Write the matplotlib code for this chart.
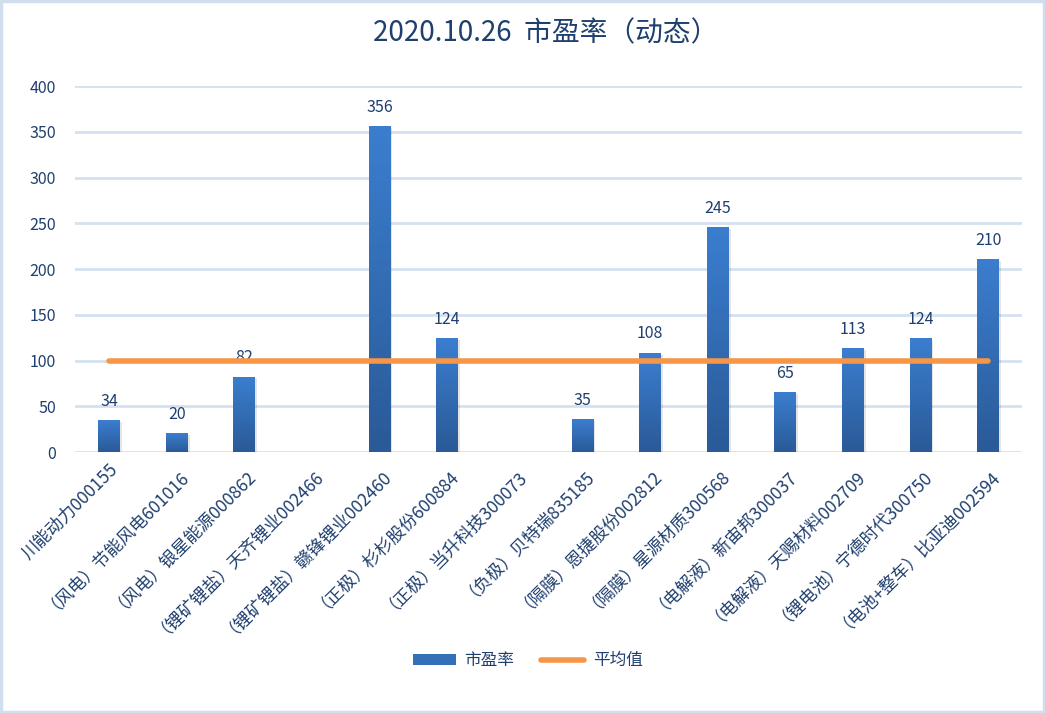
import matplotlib.pyplot as plt
import numpy as np
from matplotlib.lines import Line2D
from matplotlib.patches import Rectangle

plt.rcParams["font.family"] = ["Noto Sans CJK SC", "DejaVu Sans"]

# chart data
companies = [
    "川能动力000155",
    "（风电）节能风电601016",
    "（风电）银星能源000862",
    "（锂矿锂盐）天齐锂业002466",
    "（锂矿锂盐）赣锋锂业002460",
    "（正极）杉杉股份600884",
    "（正极）当升科技300073",
    "（负极）贝特瑞835185",
    "（隔膜）恩捷股份002812",
    "（隔膜）星源材质300568",
    "（电解液）新宙邦300037",
    "（电解液）天赐材料002709",
    "（锂电池）宁德时代300750",
    "（电池+整车）比亚迪002594",
]
pe_values = [34, 20, 82, np.nan, 356, 124, np.nan, 35, 108, 245, 65, 113, 124, 210]
average_pe = [100] * len(companies)
y_ticks = [0, 50, 100, 150, 200, 250, 300, 350, 400]

text_color = "#1F3F6E"
grid_color = "#D5E1F2"
bar_top = np.array([0x3B, 0x7E, 0xCF]) / 255
bar_bottom = np.array([0x2A, 0x5A, 0x97]) / 255
line_color = "#F79646"

fig = plt.figure(figsize=(10.45, 7.13), dpi=100)
ax = fig.add_axes([0.072, 0.366, 0.906, 0.513])

x = np.arange(len(companies))
heights = np.nan_to_num(pe_values)
bars = ax.bar(x, heights, width=0.32, color="none", zorder=2)

# vertical gradient fill for every bar
grad = np.linspace(0, 1, 256)[:, None]
grad_img = bar_bottom + (bar_top - bar_bottom) * grad[..., None]
for rect, val in zip(bars, pe_values):
    if np.isnan(val):
        continue
    x0, w, h = rect.get_x(), rect.get_width(), rect.get_height()
    # soft shadow
    ax.add_patch(Rectangle((x0 + 0.03, 0), w, h - 1.5, color="#000000",
                           alpha=0.1, zorder=1.5, lw=0))
    ax.imshow(grad_img, extent=(x0, x0 + w, 0, h), origin="lower",
              aspect="auto", zorder=2)
    ax.text(x0 + w / 2, h + 12, f"{val:.0f}", ha="center", va="bottom",
            fontsize=11.5, color=text_color)

ax.plot(x, average_pe, color=line_color, lw=4, solid_capstyle="round", zorder=3)

ax.set_xlim(-0.5, len(companies) - 0.5)
ax.set_ylim(0, 400)
ax.set_yticks(y_ticks)
ax.set_yticklabels([str(t) for t in y_ticks], fontsize=11.5, color=text_color)
ax.yaxis.grid(True, color=grid_color, lw=2)
ax.set_axisbelow(True)
ax.tick_params(axis="y", length=0, pad=14)
ax.tick_params(axis="x", length=0, pad=6)
ax.set_xticks(x)
ax.set_xticklabels(companies, rotation=45, ha="right", rotation_mode="anchor",
                   fontsize=12.5, color=text_color)
for s in ax.spines.values():
    s.set_visible(False)

fig.text(0.522, 0.953, "2020.10.26  市盈率（动态）", ha="center", va="center",
         fontsize=20, color=text_color, fontweight="medium")

handles = [
    Rectangle((0, 0), 1, 1, facecolor="#3470B8", edgecolor="none"),
    Line2D([0], [0], color=line_color, lw=4, solid_capstyle="round"),
]
fig.legend(handles, ["市盈率", "平均值"], loc="center", ncol=2,
           bbox_to_anchor=(0.505, 0.073), frameon=False, fontsize=12,
           labelcolor=text_color, handlelength=2.6, handletextpad=0.5,
           columnspacing=1.6)

fig.add_artist(Rectangle((0.001, 0.001), 0.998, 0.997, transform=fig.transFigure,
                         fill=False, edgecolor="#D0DEEF", lw=2.5))

fig.savefig("out.png", dpi=100)
